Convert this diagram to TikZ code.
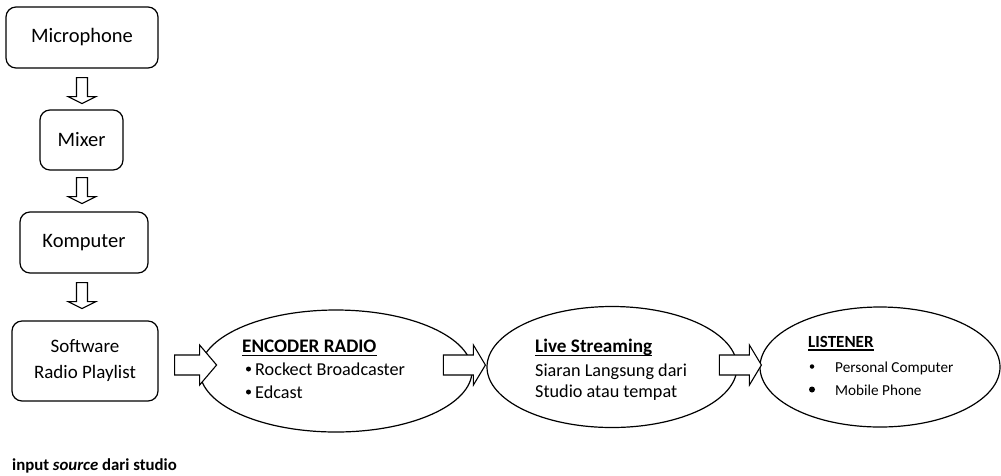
\documentclass[tikz,border=0pt]{standalone}
\usepackage{fontspec}
\setmainfont{Carlito}
\usetikzlibrary{shapes.geometric,calc}
\begin{document}
\begin{tikzpicture}[x=1pt,y=-1pt,
  box/.style={draw, rounded corners=10pt, line width=1.2pt, inner sep=0pt, align=center, font=\fontsize{20.5}{25}\selectfont},
  oval/.style={draw, ellipse, line width=1.2pt, inner sep=0pt},
  blockarrow/.style={draw, fill=white, line width=1.1pt, line join=miter},
  ttl/.style={anchor=base west, inner sep=0pt, font=\bfseries\fontsize{19.2}{22}\selectfont},
  item/.style={anchor=base west, inner sep=0pt, font=\fontsize{18.2}{22}\selectfont},
  smallitem/.style={anchor=base west, inner sep=0pt, font=\fontsize{15.2}{18}\selectfont},
  dot/.style={circle, fill, inner sep=0pt, minimum size=#1},
  uline/.style={line width=1.4pt},
  pics/downarrow/.style={code={\draw[blockarrow] (-5.5,0) -- (-5.5,19) -- (-14,19) -- (0,26) -- (14,19) -- (5.5,19) -- (5.5,0) -- cycle;}},
  pics/rightarrow/.style={code={\draw[blockarrow] (-42,-10) -- (-#1,-10) -- (-#1,-20) -- (0,0) -- (-#1,20) -- (-#1,10) -- (-42,10) -- cycle;}},
]
\useasboundingbox (0,0) rectangle (1001,475);

% left column boxes
\node[box, minimum width=152, minimum height=61] (mic) at (82,37.5) {Microphone};
\node[box, minimum width=83, minimum height=60] (mix) at (81.5,140) {Mixer};
\node[box, minimum width=128, minimum height=61] (kom) at (84,242.5) {Komputer};
\node[box, minimum width=146, minimum height=80, font=\fontsize{19}{26}\selectfont] (soft) at (85,361) {Software\\Radio Playlist};

% ellipses
\node[oval, minimum width=272, minimum height=122] (enc) at (336,371) {};
\node[oval, minimum width=250, minimum height=121] (live) at (612,367) {};
\node[oval, minimum width=240, minimum height=120] (lis) at (880,367) {};

% down block arrows
\pic at ($(mic.south)+(0,9)$) {downarrow};
\pic at ($(mix.south)+(0.5,7)$) {downarrow};
\pic at ($(kom.south)+(-2,9)$) {downarrow};

% right block arrows
\pic at ($(soft.east)+(58,4)$) {rightarrow=17};
\pic at ($(live.west)+(-1,-2)$) {rightarrow=12};
\pic at ($(lis.west)+(2,-2)$) {rightarrow=12};

% encoder text
\node[ttl] (encT) at (242,352) {ENCODER RADIO};
\draw[uline] ($(encT.base west)+(0,3.5)$) -- ($(encT.base east)+(0,3.5)$);
\node[dot=5] (encB1) at (248.5,369) {};
\node[item] (enc1) at (255,375) {Rockect Broadcaster};
\node[dot=5] (encB2) at (248.5,392) {};
\node[item] (enc2) at (255,398) {Edcast};

% live streaming text
\node[ttl] (liveT) at (535,352) {Live Streaming};
\draw[uline] ($(liveT.base west)+(0,3.5)$) -- ($(liveT.base east)+(0,3.5)$);
\node[item] (live1) at (535,376) {Siaran Langsung dari};
\node[item] (live2) at (535,397) {Studio atau tempat};

% listener text
\node[ttl, font=\bfseries\fontsize{17}{20}\selectfont] (lisT) at (808,347) {LISTENER};
\draw[uline] ($(lisT.base west)+(0,3)$) -- ($(lisT.base east)+(0,3)$);
\node[dot=4.5] (lisB1) at (812,366.5) {};
\node[smallitem] (lis1) at (835,372) {Personal Computer};
\node[dot=6] (lisB2) at (812,389.5) {};
\node[smallitem] (lis2) at (835,395) {Mobile Phone};

% bottom caption
\node[anchor=base west, inner sep=0pt, font=\bfseries\fontsize{16.8}{19}\selectfont] (src) at (12,470) {input \textit{source} dari studio};
\end{tikzpicture}
\end{document}
